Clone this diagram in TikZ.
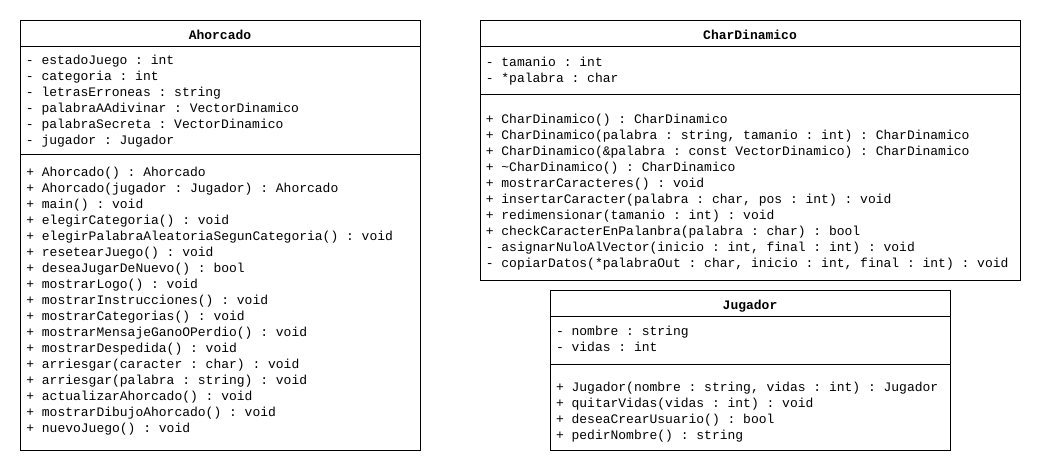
\documentclass[tikz,border=0pt]{standalone}
\usepackage{fontspec}
\newfontfamily\umlfont{Liberation Mono}
\newcommand\umltext{\umlfont\fontsize{9.75}{12}\selectfont\frenchspacing}
\tikzset{
    member/.style={anchor=base west, inner sep=0pt, align=left, font=\umltext},
    classname/.style={anchor=base, inner sep=0pt, font=\umlfont\bfseries\fontsize{9.75}{12}\selectfont},
}

\begin{document}
\begin{tikzpicture}[x=0.75pt, y=-0.75pt, line width=0.75pt]
    \useasboundingbox (0,0) rectangle (1042,472);

    % Ahorcado (multi-line nodes sit on their last baseline)
    \draw (20,20) rectangle (420,450);
    \draw (20,46) -- (420,46);
    \draw (20,154) -- (420,154);
    \node[classname] (ahorcado) at (220,39) {Ahorcado};
    \node[member] (ahorcadoAttr) at (25.5,144) {- estadoJuego : int\\- categoria : int\\- letrasErroneas : string\\- palabraAAdivinar : VectorDinamico\\- palabraSecreta : VectorDinamico\\- jugador : Jugador};
    \node[member] (ahorcadoMeth) at (25.8,432) {+ Ahorcado() : Ahorcado\\+ Ahorcado(jugador : Jugador) : Ahorcado\\+ main() : void\\+ elegirCategoria() : void\\+ elegirPalabraAleatoriaSegunCategoria() : void\\+ resetearJuego() : void\\+ deseaJugarDeNuevo() : bool\\+ mostrarLogo() : void\\+ mostrarInstrucciones() : void\\+ mostrarCategorias() : void\\+ mostrarMensajeGanoOPerdio() : void\\+ mostrarDespedida() : void\\+ arriesgar(caracter : char) : void\\+ arriesgar(palabra : string) : void\\+ actualizarAhorcado() : void\\+ mostrarDibujoAhorcado() : void\\+ nuevoJuego() : void};

    % CharDinamico
    \draw (480,20) rectangle (1020,280);
    \draw (480,46) -- (1020,46);
    \draw (480,94) -- (1020,94);
    \node[classname] (charDinamico) at (750,39) {CharDinamico};
    \node[member] (charAttr) at (485.3,82) {- tamanio : int\\- *palabra : char};
    \node[member] (charMeth) at (485.3,267) {+ CharDinamico() : CharDinamico\\+ CharDinamico(palabra : string, tamanio : int) : CharDinamico\\+ CharDinamico(\&palabra : const VectorDinamico) : CharDinamico\\+ \textasciitilde CharDinamico() : CharDinamico\\+ mostrarCaracteres() : void\\+ insertarCaracter(palabra : char, pos : int) : void\\+ redimensionar(tamanio : int) : void\\+ checkCaracterEnPalanbra(palabra : char) : bool\\- asignarNuloAlVector(inicio : int, final : int) : void\\- copiarDatos(*palabraOut : char, inicio : int, final : int) : void};

    % Jugador
    \draw (550,290) rectangle (950,450);
    \draw (550,316) -- (950,316);
    \draw (550,364) -- (950,364);
    \node[classname] (jugador) at (750,309) {Jugador};
    \node[member] (jugadorAttr) at (555.5,351) {- nombre : string\\- vidas : int};
    \node[member] (jugadorMeth) at (555.5,439) {+ Jugador(nombre : string, vidas : int) : Jugador\\+ quitarVidas(vidas : int) : void\\+ deseaCrearUsuario() : bool\\+ pedirNombre() : string};
\end{tikzpicture}
\end{document}
